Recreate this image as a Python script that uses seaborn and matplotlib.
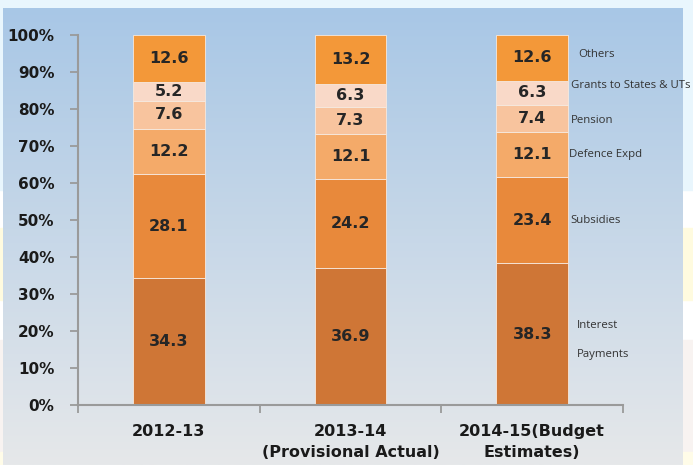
import numpy as np
import pandas as pd
import matplotlib
matplotlib.use("Agg")
import matplotlib.pyplot as plt
from matplotlib.patches import Rectangle
import seaborn as sns

# ---- data ----
years = ["2012-13", "2013-14\n(Provisional Actual)", "2014-15(Budget\nEstimates)"]
components = ["Interest\n\nPayments", "Subsidies", "Defence Expd", "Pension",
              "Grants to States & UTs", "Others"]
interest = [34.3, 36.9, 38.3]
subsidies = [28.1, 24.2, 23.4]
defence = [12.2, 12.1, 12.1]
pension = [7.6, 7.3, 7.4]
grants = [5.2, 6.3, 6.3]
others = [12.6, 13.2, 12.6]
series = [interest, subsidies, defence, pension, grants, others]
colors = ["#cf7636", "#e8893b", "#f4aa69", "#f8c49e", "#f9d9c8", "#f39839"]
yticks = list(range(0, 101, 10))
ytick_labels = [f"{t}%" for t in yticks]

# layout nudges for the side labels (x offset, y offset in % units)
side_dx = [0.035, 0.0, -0.01, 0.0, 0.0, 0.04]
side_dy = [-1.5, 0.0, 0.0, -0.5, 2.0, 1.0]

sns.set_theme(style="white")
plt.rcParams["font.family"] = ["DejaVu Sans"]

W, H = 693, 465
fig = plt.figure(figsize=(W / 100, H / 100), dpi=100, facecolor="white")

def frect(x0, y0, x1, y1, c):
    fig.patches.append(Rectangle((x0 / W, 1 - y1 / H), (x1 - x0) / W, (y1 - y0) / H,
                                 transform=fig.transFigure, color=c, zorder=-10))

frect(0, 0, W, 190, "#e9f6fd")
frect(0, 228, W, 300, "#fffbdf")
frect(0, 340, W, 452, "#f8f3f1")
frect(0, 452, W, H, "#fffce8")

# gradient panel
bg = fig.add_axes([3 / W, 0, 680 / W, 1 - 8 / H], zorder=0)
top = np.array(matplotlib.colors.to_rgb("#a8c7e6"))
bot = np.array(matplotlib.colors.to_rgb("#e6e8ea"))
t = np.linspace(0, 1, 256)[:, None]
grad = (top[None, :] * (1 - t) + bot[None, :] * t)[:, None, :]
bg.imshow(grad, aspect="auto", extent=[0, 1, 0, 1])
bg.set_axis_off()

ax = fig.add_axes([78 / W, 1 - 405 / H, (623 - 78) / W, (405 - 35) / H], zorder=1)
ax.set_facecolor("none")

df = pd.DataFrame({"year": years})
bottom = np.zeros(len(years))
for k, (name, vals, c) in enumerate(zip(components, series, colors)):
    df["v"] = vals
    sns.barplot(data=df, x="year", y="v", order=years, color=c, width=0.395,
                bottom=bottom.copy(), edgecolor="#f6e9df", linewidth=0.6,
                saturation=1, ax=ax, errorbar=None)
    for i, v in enumerate(vals):
        ax.text(i, bottom[i] + v / 2, f"{v:.1f}", ha="center", va="center",
                fontsize=11.5, fontweight="bold", color="#262626")
    last = len(years) - 1
    ax.text(2.212 + side_dx[k], bottom[last] + vals[last] / 2 + side_dy[k], name,
            ha="left", va="center", fontsize=8.2, family=["Open Sans", "DejaVu Sans"],
            color="#333333", linespacing=1.45)
    bottom += np.array(vals)

ax.set_xlim(-0.5, 2.5)
ax.set_ylim(0, 100)
ax.set_yticks(yticks)
ax.set_yticklabels(ytick_labels, fontsize=11, fontweight="bold", color="#1a1a1a")
ax.set_xticks([0, 1, 2])
ax.set_xticklabels(years, fontsize=11.5, fontweight="bold", color="#1a1a1a",
                   linespacing=1.45)
ax.set_xticks([-0.5, 0.5, 1.5, 2.5], minor=True)
ax.tick_params(axis="x", which="major", length=0, pad=14)
ax.tick_params(axis="x", which="minor", length=6, width=1.3, color="#9a9a9a", direction="out", bottom=True)
ax.tick_params(axis="y", which="major", length=6, width=1.3, color="#9a9a9a", direction="out", pad=11, left=True)
ax.set_xlabel("")
ax.set_ylabel("")
for s in ["top", "right"]:
    ax.spines[s].set_visible(False)
for s in ["left", "bottom"]:
    ax.spines[s].set_color("#9a9a9a")
    ax.spines[s].set_linewidth(1.5)

fig.savefig("out.png", dpi=100, facecolor=fig.get_facecolor())
